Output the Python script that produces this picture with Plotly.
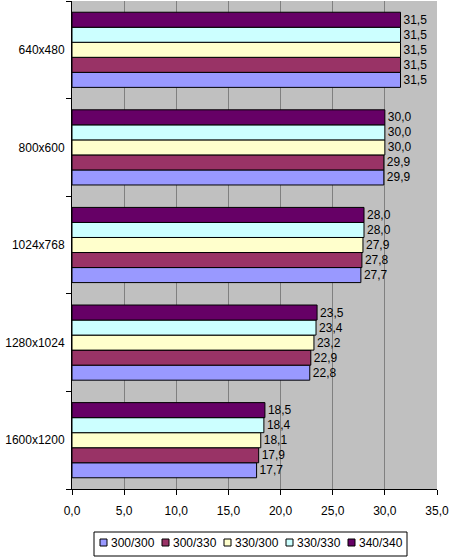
import plotly.graph_objects as go

categories = ["640x480", "800x600", "1024x768", "1280x1024", "1600x1200"]
series_names = ["300/300", "300/330", "330/300", "330/330", "340/340"]
v_300_300 = [31.5, 29.9, 27.7, 22.8, 17.7]
v_300_330 = [31.5, 29.9, 27.8, 22.9, 17.9]
v_330_300 = [31.5, 30.0, 27.9, 23.2, 18.1]
v_330_330 = [31.5, 30.0, 28.0, 23.4, 18.4]
v_340_340 = [31.5, 30.0, 28.0, 23.5, 18.5]
series_values = [v_300_300, v_300_330, v_330_300, v_330_330, v_340_340]
colors = ["#9999FF", "#993366", "#FFFFCC", "#CCFFFF", "#660066"]
x_ticks = [0, 5, 10, 15, 20, 25, 30, 35]

FONT = "Liberation Sans, Arial, sans-serif"
W, H = 449, 557
ML, MR, MT, MB = 72, 12, 1, 68
PW, PH = W - ML - MR, H - MT - MB


def px_x(p):
    return (p - ML) / PW


def px_y(p):
    return (H - MB - p) / PH


fig = go.Figure()
for name, vals, col in zip(series_names, series_values, colors):
    fig.add_trace(go.Bar(
        y=categories, x=vals, name=name, orientation="h",
        marker=dict(color=col, line=dict(color="black", width=1)),
        text=vals, texttemplate="%{x:.1f}", textposition="outside",
        textfont=dict(family=FONT, size=12, color="black"),
        cliponaxis=False, showlegend=False,
    ))

# legend box drawn manually (compact, like the original)
shapes = [dict(type="rect", xref="paper", yref="paper",
               x0=px_x(94), x1=px_x(407), y0=px_y(556), y1=px_y(532),
               line=dict(color="black", width=1), fillcolor="white", layer="above")]
annotations = []
for i, (name, col) in enumerate(zip(series_names, colors)):
    sx = 100 + i * 62
    shapes.append(dict(type="rect", xref="paper", yref="paper",
                       x0=px_x(sx), x1=px_x(sx + 7), y0=px_y(546), y1=px_y(539),
                       line=dict(color="black", width=1), fillcolor=col, layer="above"))
    annotations.append(dict(xref="paper", yref="paper", x=px_x(sx + 9), y=px_y(543),
                            text=name, showarrow=False, xanchor="left", yanchor="middle",
                            font=dict(family=FONT, size=12, color="black")))

fig.update_layout(
    width=W, height=H,
    barmode="group", bargap=0.23, bargroupgap=0,
    separators=", ",
    paper_bgcolor="white", plot_bgcolor="#C0C0C0",
    margin=dict(l=ML, r=MR, t=MT, b=MB),
    font=dict(family=FONT, size=12, color="black"),
    showlegend=False,
    shapes=shapes, annotations=annotations,
)
fig.update_xaxes(
    range=[0, 35], tickvals=x_ticks, tickformat=".1f", automargin=False,
    ticklabeloverflow="allow", ticklabelstandoff=6,
    showgrid=True, gridcolor="#808080", gridwidth=1,
    zeroline=False, showline=True, linecolor="black", linewidth=1,
    ticks="outside", ticklen=5, tickcolor="black",
)
fig.update_yaxes(
    type="category", categoryorder="array", categoryarray=categories[::-1],
    automargin=False, ticklabelstandoff=4,
    showline=True, linecolor="black", linewidth=1,
    ticks="outside", ticklen=5, tickcolor="black", tickson="boundaries",
    showgrid=False,
)
fig.write_html("out.html", config={"displayModeBar": False},
               post_script="document.body.style.margin='0';")
